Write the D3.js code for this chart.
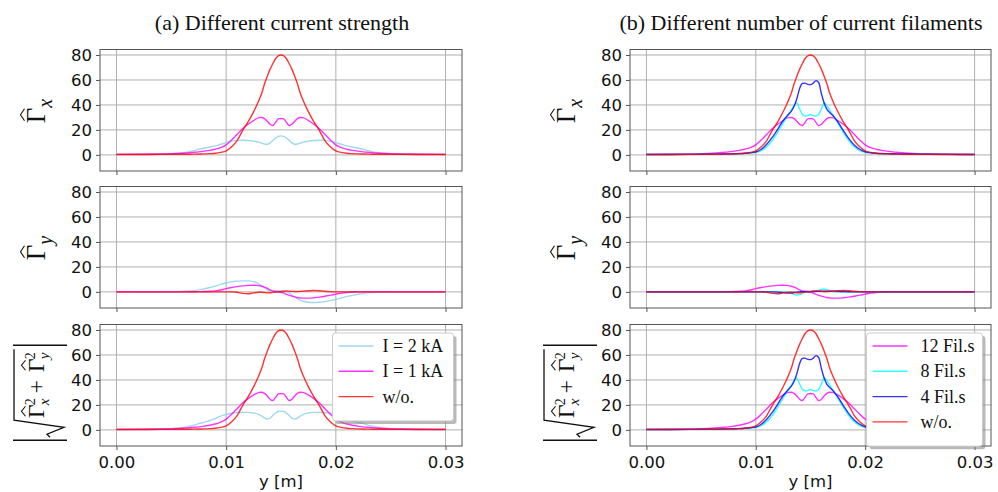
<!DOCTYPE html>
<html><head><meta charset="utf-8">
<script src="https://cdn.jsdelivr.net/npm/d3@7"></script>
<style>body{margin:0;background:#fff}svg{display:block}</style>
</head><body><svg id="c" width="998" height="492"></svg>
<script>
// ---- data ----
const yPos = [0,0.002,0.004,0.005,0.006,0.007,0.0075,0.008,0.0085,0.009,0.0095,
  0.01,0.0105,0.011,0.0115,0.012,0.0125,0.013,0.01325,0.0135,0.01375,0.014,0.01425,0.0145,0.01475,
  0.015,0.01525,0.0155,0.01575,0.016,0.01625,0.0165,0.01675,0.017,0.0175,0.018,0.0185,0.019,0.0195,
  0.02,0.0205,0.021,0.0215,0.022,0.0225,0.023,0.024,0.025,0.026,0.028,0.03];

// (a) Gamma_x
const gxSky = [0.3,0.4,0.7,1.0,1.6,3.2,4.5,5.5,6.3,7.2,8.5,9.8,11.0,11.6,11.7,11.5,11.0,10.2,9.4,8.7,8.5,9.6,11.5,13.5,14.8,
  15.2,14.8,13.5,11.5,9.6,8.5,8.7,9.4,10.2,11.0,11.5,11.7,11.6,11.0,9.8,8.5,7.2,6.3,5.5,4.5,3.2,1.6,1.0,0.7,0.4,0.3];
const gxPink = [0.4,0.5,0.7,0.9,1.3,2.0,2.4,3.0,3.6,4.5,5.8,8.0,12.0,16.5,21.0,24.5,27.5,29.8,30.0,29.0,27.0,24.5,23.5,26.0,28.8,
  29.2,28.8,26.0,23.5,24.5,27.0,29.0,30.0,29.8,27.5,24.5,21.0,16.5,12.0,8.0,5.8,4.5,3.6,3.0,2.4,2.0,1.3,0.9,0.7,0.5,0.4];
const gxRed = [0.3,0.35,0.4,0.45,0.5,0.6,0.7,0.8,1.0,1.3,2.0,3.2,6.5,11.5,19.5,26.5,34.5,44.0,49.5,57.0,63.0,68.5,73.0,77.0,79.3,
  80.0,79.3,77.0,73.0,68.5,63.0,57.0,49.5,44.0,34.5,26.5,19.5,11.5,6.5,3.2,2.0,1.3,1.0,0.8,0.7,0.6,0.5,0.45,0.4,0.35,0.3];
// (a) Gamma_y
const gySky = [0,0,0,0.1,0.4,1.0,1.6,2.4,3.5,4.6,6.0,7.3,8.2,8.6,8.8,8.8,8.2,6.3,4.8,3.3,1.8,0.8,0.5,0.8,1.0,
  0.9,0.8,0.3,-0.8,-2.5,-4.2,-5.5,-6.6,-7.5,-8.3,-8.5,-8.3,-7.8,-7.0,-6.0,-4.8,-3.6,-2.8,-2.0,-1.2,-0.6,-0.2,0,0,0,0];
const gyPink = [0,0,0,0,0,0.1,0.2,0.3,0.5,0.8,1.5,2.6,3.5,4.2,4.8,5.2,5.3,5.0,4.5,3.8,2.8,1.6,0.8,0.3,0,
  -0.3,-1.0,-2.0,-2.8,-3.4,-4.0,-4.5,-4.8,-5.0,-5.0,-4.7,-4.2,-3.5,-2.6,-1.8,-1.0,-0.5,-0.2,0,0,0,0,0,0,0,0];
const gyRed = [0,0,0,0,0,0,0,0,0,0,0,0,0,-0.3,-1.2,-1.5,-0.8,-0.3,-0.3,-0.5,-0.8,-0.7,-0.4,-0.2,0,
  0.2,0.5,0.7,0.6,0.4,0.3,0.3,0.4,0.6,0.9,1.1,0.9,0.5,0.2,0,0,0,0,0,0,0,0,0,0,0,0];
// (a) magnitude
const gmSky = [0.3,0.4,0.7,1.0,1.8,3.5,5.0,6.0,7.5,9.0,11.0,12.3,13.3,13.9,14.0,14.0,13.5,12.3,11.0,9.6,8.6,9.4,11.5,13.5,14.7,
  15.0,14.7,13.5,11.5,9.4,8.6,9.6,11.0,12.3,13.5,14.0,14.0,13.9,13.3,12.3,11.0,9.0,7.5,6.0,5.0,3.5,1.8,1.0,0.7,0.4,0.3];
const gmPink = [0.4,0.5,0.7,0.9,1.3,2.0,2.4,3.0,3.7,4.7,6.2,8.6,12.5,17.0,21.5,25.0,28.0,30.0,30.2,29.2,27.2,24.6,23.5,26.0,28.8,
  29.2,28.8,26.0,23.5,24.6,27.2,29.2,30.2,30.0,28.0,25.0,21.5,17.0,12.5,8.6,6.2,4.7,3.7,3.0,2.4,2.0,1.3,0.9,0.7,0.5,0.4];
// (b) filaments
const gxCyan = [0.3,0.3,0.4,0.5,0.6,0.7,0.8,0.9,1.0,1.2,1.5,2.0,3.5,6.5,11.5,18.0,25.5,32.5,36.0,39.5,41.5,37.0,32.5,31.2,31.5,
  32.3,31.5,31.2,32.5,37.0,41.5,39.5,36.0,32.5,25.5,18.0,11.5,6.5,3.5,2.0,1.5,1.2,1.0,0.9,0.8,0.7,0.6,0.5,0.4,0.3,0.3];
const gxBlue = [0.3,0.3,0.4,0.5,0.6,0.7,0.8,0.9,1.1,1.3,1.7,2.3,4.5,8.5,14.0,20.5,27.5,32.5,35.0,39.0,45.0,53.0,57.2,57.5,56.5,
  56.3,57.5,59.5,58.0,49.0,41.5,36.5,34.0,32.0,26.5,19.5,13.0,8.0,4.5,2.5,1.7,1.3,1.1,1.0,0.9,0.8,0.7,0.6,0.5,0.4,0.3];
const gyCyan = [0,0,0,0,0,0,0,0,0,0,0,0,0,0,0,0,0,-0.3,-1.0,-2.0,-2.5,-2.2,-1.2,-0.3,0,
  0.2,0.5,0.7,1.2,2.0,2.3,1.8,1.0,0.4,0.1,0,0,0,0,0,0,0,0,0,0,0,0,0,0,0,0];
const gyBlue = [0,0,0,0,0,0,0,0,0,0,0,0,0,0,0,-0.2,-0.6,-1.0,-0.9,-0.5,-0.2,0,0.2,0.3,0.3,
  0.3,0.3,0.4,0.5,0.5,0.5,0.5,0.5,0.6,0.5,0.3,0.1,0,0,0,0,0,0,0,0,0,0,0,0,0,0];

const xTicks = [0, 0.01, 0.02, 0.03];
const yTicks = [0, 20, 40, 60, 80];
const titles = ["(a) Different current strength", "(b) Different number of current filaments"];
const legendA = ["I = 2 kA", "I = 1 kA", "w/o."];
const legendB = ["12 Fil.s", "8 Fil.s", "4 Fil.s", "w/o."];
const xLabel = "y [m]";

// ---- styling ----
const C = {sky:"#87ceeb", pink:"#ff00ff", red:"#ff0000", cyan:"#00ffff", blue:"#0000ff"};
const svg = d3.select("#c");
const yDom = [-12.9, 84.4];
const cols = [{x0:100, x1:462, lx:45, title:282}, {x0:630, x1:991, lx:575, title:801}];
const rows = [[49.5,171],[186.5,308],[324.5,446]];
const SANS = "DejaVu Sans", SERIF = "Liberation Serif";

const panels = [
  [ [{d:gxSky,c:C.sky},{d:gxPink,c:C.pink},{d:gxRed,c:C.red}],
    [{d:gySky,c:C.sky},{d:gyPink,c:C.pink},{d:gyRed,c:C.red}],
    [{d:gmSky,c:C.sky},{d:gmPink,c:C.pink},{d:gxRed,c:C.red}] ],
  [ [{d:gxPink,c:C.pink},{d:gxCyan,c:C.cyan},{d:gxBlue,c:C.blue},{d:gxRed,c:C.red}],
    [{d:gyPink,c:C.pink},{d:gyCyan,c:C.cyan},{d:gyBlue,c:C.blue},{d:gyRed,c:C.red}],
    [{d:gmPink,c:C.pink},{d:gxCyan,c:C.cyan},{d:gxBlue,c:C.blue},{d:gxRed,c:C.red}] ]
];
const legends = [
  {labels:legendA, colors:[C.sky,C.pink,C.red], w:121, tx:50},
  {labels:legendB, colors:[C.pink,C.cyan,C.blue,C.red], w:116, tx:54}
];

function hat(g, u, v, w) {
  g.append("path").attr("d", `M${u},${v} L${u+w/2},${v-4} L${u+w},${v}`)
    .attr("fill","none").attr("stroke","#111").attr("stroke-width",1.1);
}
function gammaLabel(g, cx, cy, sub) {
  const G = g.append("g").attr("transform", `translate(${cx},${cy}) rotate(-90)`);
  G.append("text").attr("x",-13).attr("y",0).attr("font-family",SERIF).attr("font-size",27).attr("fill","#111").text("Γ");
  hat(G, -10.5, -20.5, 12);
  G.append("text").attr("x",2.5).attr("y",7).attr("font-family",SERIF).attr("font-style","italic")
    .attr("font-size",20).attr("fill","#111").text(sub);
}
function magLabel(g, cx, cy) {
  const G = g.append("g").attr("transform", `translate(${cx},${cy}) rotate(-90)`);
  const st = s => s.attr("stroke","#111").attr("stroke-width",1.3).attr("fill","none");
  st(G.append("line").attr("x1",-48).attr("x2",-48).attr("y1",-32).attr("y2",22));
  st(G.append("line").attr("x1",47).attr("x2",47).attr("y1",-32).attr("y2",22));
  st(G.append("path").attr("d","M-45,5 L-42,2 L-35,19 L-28,-31 L43,-31").attr("stroke-width",1.2));
  const parts = [{u:-26, s:"x"}, {u:20, s:"y"}];
  parts.forEach(p => {
    G.append("text").attr("x",p.u).attr("y",-1).attr("font-family",SERIF).attr("font-size",24).attr("fill","#111").text("Γ");
    hat(G, p.u+2, -19.5, 10);
    G.append("text").attr("x",p.u+13).attr("y",-10).attr("font-family",SERIF).attr("font-size",14).attr("fill","#111").text("2");
    G.append("text").attr("x",p.u+13).attr("y",4).attr("font-family",SERIF).attr("font-style","italic").attr("font-size",15).attr("fill","#111").text(p.s);
  });
  G.append("text").attr("x",5.5).attr("y",-1).attr("text-anchor","middle").attr("font-family",SERIF)
    .attr("font-size",24).attr("fill","#111").text("+");
}

cols.forEach((col, ci) => {
  svg.append("text").attr("x", col.title).attr("y", 30).attr("text-anchor","middle")
    .attr("font-family", SERIF).attr("font-size", 22).attr("fill","#111").text(titles[ci]);
  rows.forEach((r, ri) => {
    const x = d3.scaleLinear([-0.0015, 0.0315], [col.x0, col.x1]);
    const y = d3.scaleLinear(yDom, [r[1], r[0]]);
    const g = svg.append("g");
    // grid
    g.selectAll(".gx").data(xTicks).join("line")
      .attr("x1", d => x(d)).attr("x2", d => x(d)).attr("y1", r[0]).attr("y2", r[1])
      .attr("stroke", "#b0b0b0").attr("stroke-width", 1);
    g.selectAll(".gy").data(yTicks).join("line")
      .attr("x1", col.x0).attr("x2", col.x1).attr("y1", d => y(d)).attr("y2", d => y(d))
      .attr("stroke", "#b0b0b0").attr("stroke-width", 1);
    // lines
    const line = d3.line().x((d, i) => x(yPos[i])).y(d => y(d)).curve(d3.curveMonotoneX);
    panels[ci][ri].forEach(s => {
      g.append("path").attr("d", line(s.d)).attr("fill","none").attr("stroke", s.c)
        .attr("stroke-width", 1.4).attr("stroke-opacity", 0.8);
    });
    // frame
    g.append("rect").attr("x", col.x0).attr("y", r[0]).attr("width", col.x1 - col.x0).attr("height", r[1] - r[0])
      .attr("fill","none").attr("stroke","#555").attr("stroke-width",1);
    // axes
    const ax = g.append("g").attr("transform", `translate(0,${r[1]})`)
      .call(d3.axisBottom(x).tickValues(xTicks).tickSize(4).tickPadding(6)
        .tickFormat(ri === 2 ? d3.format(".2f") : () => ""));
    const ay = g.append("g").attr("transform", `translate(${col.x0},0)`)
      .call(d3.axisLeft(y).tickValues(yTicks).tickSize(4).tickPadding(4));
    [ax, ay].forEach(a => {
      a.select(".domain").remove();
      a.selectAll("line").attr("stroke", "#555");
      a.selectAll("text").attr("font-family", SANS).attr("font-size", 16.5).attr("fill", "#111");
    });
    // y label
    const cy = (r[0] + r[1]) / 2;
    if (ri === 0) gammaLabel(g, col.lx, cy, "x");
    else if (ri === 1) gammaLabel(g, col.lx, cy, "y");
    else magLabel(g, col.lx, cy + 7);
    if (ri === 2) {
      g.append("text").attr("x", (col.x0 + col.x1) / 2).attr("y", 487).attr("text-anchor","middle")
        .attr("font-family", SANS).attr("font-size", 16.5).attr("fill","#111").text(xLabel);
      // legend
      const L = legends[ci];
      const lw = L.w, lh = 12 + L.labels.length * 25.3;
      const lx = col.x1 - 8.5 - lw, ly = r[0] + 8.5;
      const lg = g.append("g");
      lg.append("rect").attr("x", lx + 3).attr("y", ly + 3).attr("width", lw).attr("height", lh)
        .attr("rx", 3).attr("fill", "#808080").attr("fill-opacity", 0.55);
      lg.append("rect").attr("x", lx).attr("y", ly).attr("width", lw).attr("height", lh)
        .attr("rx", 3).attr("fill", "#fff").attr("stroke", "#cccccc").attr("stroke-width", 1);
      L.labels.forEach((t, i) => {
        const yy = ly + 13 + i * 25.3;
        lg.append("line").attr("x1", lx + 6).attr("x2", lx + 41).attr("y1", yy).attr("y2", yy)
          .attr("stroke", L.colors[i]).attr("stroke-width", 1.4).attr("stroke-opacity", 0.8);
        lg.append("text").attr("x", lx + L.tx).attr("y", yy + 6).attr("font-family", SERIF)
          .attr("font-size", 18).attr("fill", "#111").text(t);
      });
    }
  });
});
</script></body></html>
